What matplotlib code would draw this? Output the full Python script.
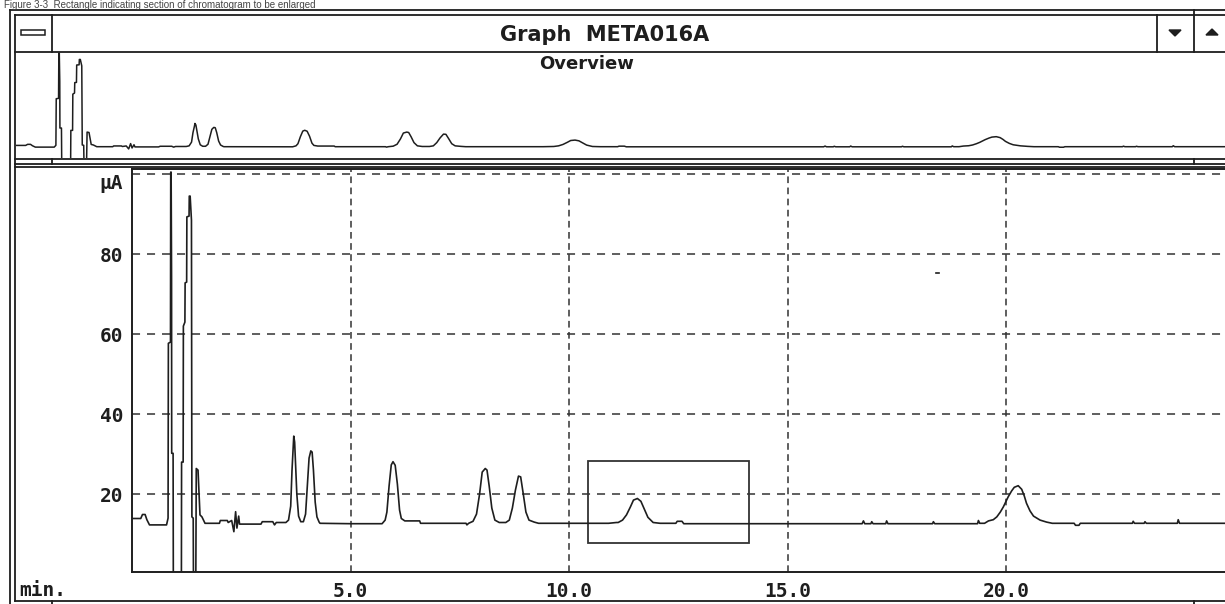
import matplotlib.pyplot as plt
from matplotlib.patches import Rectangle, Polygon

plt.rcParams['lines.scale_dashes'] = False

# chromatogram trace: time (min) and detector current (uA)
time_min = [0.00, 0.20, 0.24, 0.30, 0.34, 0.40, 0.79, 0.825, 0.832, 0.880, 0.886, 0.895,
            0.905, 0.908, 0.940, 0.945, 1.130, 1.134, 1.170, 1.175, 1.210, 1.215, 1.250,
            1.255, 1.305, 1.310, 1.330, 1.360, 1.370, 1.400, 1.405, 1.460, 1.470, 1.510,
            1.555, 1.600, 1.670, 2.000, 2.020, 2.180, 2.200, 2.280, 2.330, 2.370, 2.400,
            2.440, 2.460, 2.950, 2.980, 3.220, 3.260, 3.300, 3.520, 3.580, 3.630, 3.660,
            3.690, 3.700, 3.720, 3.740, 3.770, 3.810, 3.860, 3.920, 3.970, 4.010, 4.050,
            4.090, 4.120, 4.150, 4.190, 4.230, 4.280, 4.300, 5.000, 5.720, 5.790, 5.830,
            5.880, 5.930, 5.970, 6.020, 6.070, 6.120, 6.160, 6.240, 6.580, 6.600, 7.640,
            7.660, 7.700, 7.800, 7.880, 7.950, 8.010, 8.080, 8.120, 8.170, 8.230, 8.300,
            8.400, 8.550, 8.630, 8.700, 8.770, 8.840, 8.890, 8.950, 9.010, 9.080, 9.200,
            9.300, 10.400, 10.900, 11.080, 11.120, 11.220, 11.310, 11.400, 11.470, 11.560,
            11.640, 11.720, 11.800, 11.920, 12.080, 12.440, 12.470, 12.580, 12.620, 16.700,
            16.730, 16.760, 16.900, 16.920, 16.950, 17.240, 17.260, 17.290, 18.310, 18.330,
            18.360, 19.340, 19.360, 19.390, 19.500, 19.590, 19.700, 19.780, 19.860, 19.930,
            20.040, 20.120, 20.180, 20.270, 20.350, 20.410, 20.460, 20.540, 20.620, 20.770,
            20.920, 21.050, 21.550, 21.580, 21.660, 21.690, 22.880, 22.900, 22.930, 23.150,
            23.170, 23.200, 23.910, 23.930, 23.960, 25.000]
current_ua = [13.9, 13.9, 14.9, 14.9, 13.6, 12.3, 12.3, 14.0, 57.7, 58.0, 100.5, 100.5,
              74.0, 30.2, 30.2, 0.0, 0.0, 28.0, 28.0, 62.0, 63.0, 72.8, 73.0,
              89.3, 89.5, 94.5, 94.5, 88.5, 14.3, 14.0, 0.0, 0.0, 26.4, 26.0,
              14.8, 14.3, 12.7, 12.7, 13.4, 13.4, 12.9, 13.4, 10.6, 15.6, 11.5,
              14.5, 12.5, 12.5, 13.1, 13.1, 12.3, 12.9, 12.9, 13.5, 17.0, 26.0,
              32.0, 34.5, 33.0, 28.0, 20.0, 14.5, 13.1, 13.1, 15.0, 22.0, 29.0,
              30.8, 30.5, 26.0, 18.0, 14.3, 13.0, 12.7, 12.6, 12.6, 13.5, 15.5,
              22.0, 27.3, 28.1, 27.2, 22.5, 16.0, 13.9, 13.3, 13.3, 12.7, 12.7,
              12.3, 12.7, 13.2, 15.0, 20.0, 25.5, 26.4, 26.0, 22.0, 16.5, 13.5,
              12.9, 12.9, 13.5, 16.5, 21.0, 24.5, 24.3, 20.0, 15.5, 13.5, 13.0,
              12.7, 12.7, 12.7, 12.9, 12.9, 13.5, 14.8, 16.8, 18.5, 18.9,
              18.2, 16.2, 14.2, 12.9, 12.7, 12.7, 13.2, 13.2, 12.6, 12.6,
              13.3, 12.6, 12.6, 13.1, 12.6, 12.6, 13.3, 12.6, 12.6, 13.1,
              12.6, 12.6, 13.4, 12.7, 12.7, 13.3, 13.6, 14.3, 15.5, 16.8,
              19.3, 20.8, 21.7, 22.1, 21.2, 19.5, 17.7, 15.8, 14.5, 13.5,
              13.0, 12.7, 12.7, 12.2, 12.2, 12.7, 12.7, 13.2, 12.7, 12.7,
              13.1, 12.7, 12.7, 13.6, 12.7, 12.7]

x_ticks = [5, 10, 15, 20]
x_tick_labels = ['5.0', '10.0', '15.0', '20.0']
y_ticks = [20, 40, 60, 80, 100]
y_tick_labels = ['20', '40', '60', '80', 'µA']

# rectangle marking the section to enlarge
box_time = [10.44, 14.12]
box_current = [7.8, 28.3]

# stray mark in the plot area
stray_time = [18.38, 18.45]
stray_current = [75.3, 75.3]

W, H = 1225, 604
fig = plt.figure(figsize=(W / 100, H / 100), dpi=100)
ink = '#1e1e1e'

# window chrome drawn in pixel coordinates
chrome = fig.add_axes([0, 0, 1, 1])
chrome.set_xlim(0, W)
chrome.set_ylim(H, 0)
chrome.axis('off')
hlines = [(10, 10, W), (15, 15, W), (52, 15, W), (158.5, 15, W), (163.5, 15, W),
          (167, 15, W), (601, 15, W)]
for y, x0, x1 in hlines:
    chrome.plot([x0, x1], [y, y], color=ink, lw=1.3)
vlines = [(10, 10, H), (15, 15, 601), (52, 15, 52), (52, 158.5, 163.5), (52, 601, H),
          (1157, 15, 52), (1194, 10, 52), (1194, 158.5, 163.5), (1194, 601, H)]
for x, y0, y1 in vlines:
    chrome.plot([x, x], [y0, y1], color=ink, lw=1.3)
chrome.add_patch(Rectangle((21, 30), 24, 5, fill=False, ec=ink, lw=1.1))
chrome.add_patch(Polygon([(1169, 30), (1181, 30), (1175, 36)], color=ink))
chrome.add_patch(Polygon([(1206, 35), (1218, 35), (1212, 29)], color=ink))
chrome.text(605, 35, 'Graph  META016A', ha='center', va='center',
            fontsize=15, fontweight='bold', color=ink)
chrome.text(587, 64, 'Overview', ha='center', va='center',
            fontsize=13, fontweight='bold', color=ink)
chrome.text(19, 590, 'min.', ha='left', va='center', family='DejaVu Sans Mono',
            fontsize=14, fontweight='bold', color=ink)
chrome.text(4, 0.5, 'Figure 3-3  Rectangle indicating section of chromatogram to be enlarged',
            ha='left', va='top', fontsize=7, color='#444444', family='Liberation Sans')

# overview strip
ov = fig.add_axes([16 / W, (H - 158) / H, (W - 16) / W, 106 / H])
ov.set_facecolor('none')
ov.plot(time_min, current_ua, color=ink, lw=1.1)
ov.set_xlim(0, 25)
ov.set_ylim(2.1, 101.5)
ov.axis('off')

# main chromatogram
ax = fig.add_axes([132 / W, (H - 571.7) / H, (W - 132) / W, (571.7 - 169.3) / H])
ax.set_facecolor('none')
ax.plot(time_min, current_ua, color=ink, lw=1.2)
ax.plot(stray_time, stray_current, color=ink, lw=1.2)
ax.add_patch(Rectangle((box_time[0], box_current[0]), box_time[1] - box_time[0],
                       box_current[1] - box_current[0], fill=False, ec='#333333', lw=1.3))
ax.set_xlim(0, 25)
ax.set_ylim(0.6, 101.2)
ax.set_xticks(x_ticks, x_tick_labels)
ax.set_yticks(y_ticks, y_tick_labels)
ax.get_yticklabels()[-1].set_verticalalignment('top')
ax.tick_params(length=0, labelsize=14, colors=ink)
ax.tick_params(axis='x', pad=7.5)
ax.tick_params(axis='y', pad=6.3)
for lab in ax.get_xticklabels() + ax.get_yticklabels():
    lab.set_family('DejaVu Sans Mono')
    lab.set_fontweight('bold')
ax.grid(axis='y', color='#333333', lw=1.1, linestyle=(0, (5.8, 5.0)))
ax.grid(axis='x', color='#333333', lw=1.1, linestyle=(0, (4.8, 3.2)))
ax.spines['right'].set_visible(False)
for side in ['left', 'bottom', 'top']:
    ax.spines[side].set_color(ink)
    ax.spines[side].set_linewidth(1.4)

fig.savefig('out.png', dpi=100)
